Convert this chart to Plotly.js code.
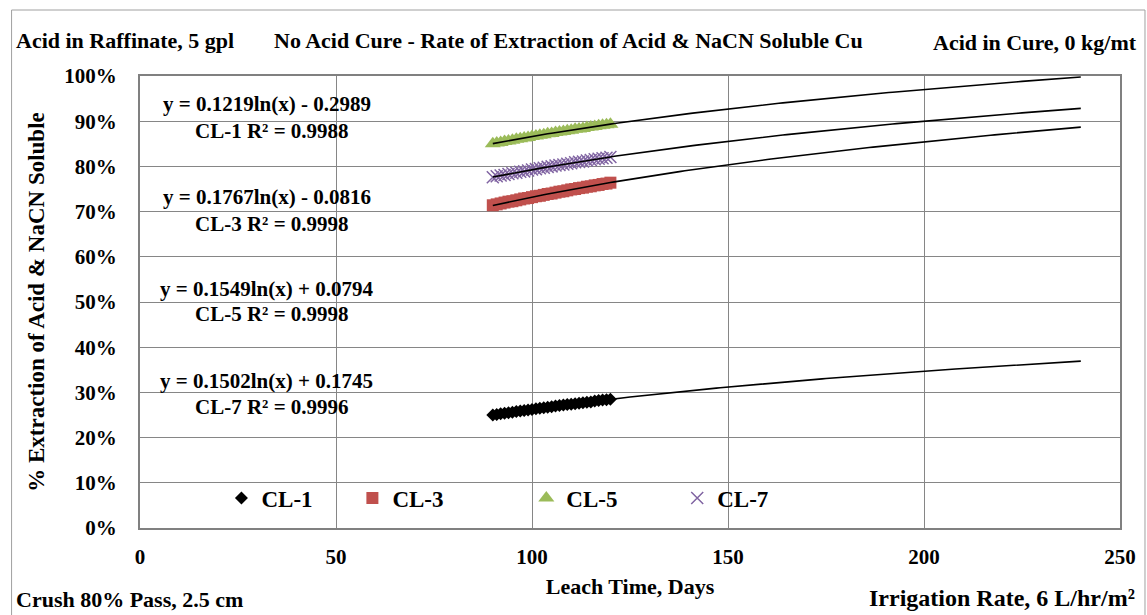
<!DOCTYPE html>
<html>
<head>
<meta charset="utf-8">
<script src="https://cdn.plot.ly/plotly-3.0.1.min.js"></script>
<style>
  html, body { margin: 0; padding: 0; background: #fff; }
  #chart { width: 1147px; height: 615px; }
</style>
</head>
<body>
<div id="chart"></div>
<script>
// ---- data ----
const days = [90,91,92,93,94,95,96,97,98,99,100,101,102,103,104,105,106,107,108,109,110,111,112,113,114,115,116,117,118,119,120];
const cl1 = [0.250,0.251,0.253,0.254,0.255,0.256,0.258,0.259,0.260,0.261,0.262,0.264,0.265,0.266,0.267,0.268,0.270,0.271,0.272,0.273,0.274,0.275,0.276,0.277,0.278,0.279,0.281,0.282,0.283,0.284,0.285];
const cl3 = [0.714,0.716,0.718,0.720,0.722,0.723,0.725,0.727,0.729,0.730,0.732,0.734,0.735,0.737,0.739,0.740,0.742,0.744,0.745,0.747,0.749,0.750,0.752,0.753,0.755,0.756,0.758,0.759,0.761,0.762,0.764];
const cl5 = [0.850,0.852,0.853,0.855,0.856,0.858,0.860,0.861,0.863,0.864,0.866,0.867,0.869,0.870,0.872,0.873,0.875,0.876,0.877,0.879,0.880,0.882,0.883,0.884,0.886,0.887,0.888,0.890,0.891,0.892,0.893];
const cl7 = [0.776,0.778,0.780,0.781,0.783,0.785,0.786,0.788,0.789,0.791,0.793,0.794,0.796,0.797,0.799,0.800,0.802,0.803,0.804,0.806,0.807,0.809,0.810,0.811,0.813,0.814,0.816,0.817,0.818,0.819,0.821];

// printed trendline equations y = a ln(x) + b, with labels
const fitNames = ["CL-1","CL-3","CL-5","CL-7"];
const fitA = [0.1219, 0.1767, 0.1549, 0.1502];
const fitB = [-0.2989, -0.0816, 0.0794, 0.1745];
const fitR2 = ["0.9988","0.9998","0.9998","0.9996"];
const fitRange = [90, 240];

const xTicks = [0,50,100,150,200,250];
const yTicks = [0,0.1,0.2,0.3,0.4,0.5,0.6,0.7,0.8,0.9,1.0];

// ---- chart ----
const FONT = "Liberation Serif, Times New Roman, serif";
const traces = [];
traces.push({x: days, y: cl1, name: "CL-1", mode: "markers", type: "scatter",
  marker: {symbol: "diamond", size: 10, color: "#000000"}, legend: "legend"});
traces.push({x: days, y: cl3, name: "CL-3", mode: "markers", type: "scatter",
  marker: {symbol: "square", size: 12, color: "#C0504D"}, legend: "legend2"});
traces.push({x: days, y: cl5, name: "CL-5", mode: "markers", type: "scatter",
  marker: {symbol: "triangle-up", size: 14, color: "#9BBB59"}, legend: "legend3"});
traces.push({x: days, y: cl7, name: "CL-7", mode: "markers", type: "scatter",
  marker: {symbol: "x-thin", size: 12, color: "#8064A2", line: {width: 1.5, color: "#8064A2"}}, legend: "legend4"});

for (let i = 0; i < fitA.length; i++) {
  const xs = [], ys = [];
  for (let x = fitRange[0]; x <= fitRange[1]; x += 1) {
    xs.push(x);
    ys.push(fitA[i] * Math.log(x) + fitB[i]);
  }
  traces.push({x: xs, y: ys, mode: "lines", type: "scatter", showlegend: false,
    line: {color: "#000000", width: 1.6}, hoverinfo: "skip"});
}

const fmt = (a, b) => "y = " + a.toFixed(4) + "ln(x) " + (b < 0 ? "- " : "+ ") + Math.abs(b).toFixed(4);
const eqY = [[0.938, 0.878], [0.732, 0.673], [0.529, 0.473], [0.325, 0.268]];
const eqX = [32.3, 32.3, 32.3, 32.3];
const annotations = [];
const ef = {family: FONT, size: 21, weight: 700, color: "#000"};
for (let i = 0; i < fitA.length; i++) {
  annotations.push({x: eqX[i], y: eqY[i][0], xref: "x", yref: "y", showarrow: false,
    text: fmt(fitA[i], fitB[i]), font: ef});
  annotations.push({x: eqX[i] + 1.3, y: eqY[i][1], xref: "x", yref: "y", showarrow: false,
    text: fitNames[i] + " R² = " + fitR2[i], font: ef});
}
const W = 980.5, H = 452, L = 139.5, T = 76;
const px = v => (v - L) / W;
const py = v => (T + H - v) / H;
const hf = {family: FONT, size: 22, weight: 700, color: "#000"};
annotations.push({x: px(13), y: py(41), xref: "paper", yref: "paper", xanchor: "left", yanchor: "middle", showarrow: false, text: "Acid in Raffinate, 5 gpl", font: hf});
annotations.push({x: px(568), y: py(40), xref: "paper", yref: "paper", xanchor: "center", yanchor: "middle", showarrow: false, text: "No Acid Cure - Rate of Extraction of Acid &amp; NaCN Soluble Cu", font: hf});
annotations.push({x: px(1139), y: py(42), xref: "paper", yref: "paper", xanchor: "right", yanchor: "middle", showarrow: false, text: "Acid in Cure, 0 kg/mt", font: hf});
annotations.push({x: px(13), y: py(599), xref: "paper", yref: "paper", xanchor: "left", yanchor: "middle", showarrow: false, text: "Crush 80% Pass, 2.5 cm", font: hf});
annotations.push({x: px(1137), y: py(598), xref: "paper", yref: "paper", xanchor: "right", yanchor: "middle", showarrow: false, text: "Irrigation Rate, 6 L/hr/m²", font: {family: FONT, size: 24, weight: 700, color: "#000"}});

const legFont = {family: FONT, size: 23, weight: 700, color: "#000"};
const legBase = {orientation: "h", yanchor: "middle", xanchor: "left", font: legFont, bgcolor: "rgba(0,0,0,0)", borderwidth: 0, itemwidth: 30};

const layout = {
  width: 1147, height: 615,
  margin: {l: L, r: 1147 - L - W, t: T, b: 615 - T - H, pad: 0},
  paper_bgcolor: "#ffffff", plot_bgcolor: "#ffffff",
  font: {family: FONT, size: 18, color: "#000"},
  showlegend: true,
  legend:  Object.assign({}, legBase, {x: px(221), y: py(498)}),
  legend2: Object.assign({}, legBase, {x: px(352), y: py(498)}),
  legend3: Object.assign({}, legBase, {x: px(526), y: py(498)}),
  legend4: Object.assign({}, legBase, {x: px(677), y: py(498)}),
  xaxis: {range: [0, 250], tickvals: xTicks, ticktext: xTicks.map(String), showgrid: true, gridcolor: "#868686", gridwidth: 1,
    zeroline: false, showline: true, linecolor: "#808080", linewidth: 2, mirror: true, ticks: "",
    tickfont: {family: FONT, size: 21, weight: 700}, ticklabelstandoff: 9,
    title: {text: "Leach Time, Days", font: {family: FONT, size: 22, weight: 700}, standoff: 10}},
  yaxis: {range: [0, 1.0], tickvals: yTicks, ticktext: yTicks.map(v => Math.round(v * 100) + "%"), showgrid: true, gridcolor: "#868686", gridwidth: 1,
    zeroline: false, showline: true, linecolor: "#808080", linewidth: 2, mirror: true, ticks: "",
    tickfont: {family: FONT, size: 21, weight: 700}, ticklabelstandoff: 17,
    title: {text: "% Extraction of Acid &amp; NaCN Soluble", font: {family: FONT, size: 23, weight: 700}, standoff: 13}},
  annotations: annotations,
  shapes: [{type: "rect", xref: "paper", yref: "paper", x0: px(11), x1: px(1145), y0: py(640), y1: py(10),
    line: {color: "#a0a0a0", width: 1}, layer: "below"}]
};

Plotly.newPlot("chart", traces, layout, {displayModeBar: false, staticPlot: true});
</script>
</body>
</html>
